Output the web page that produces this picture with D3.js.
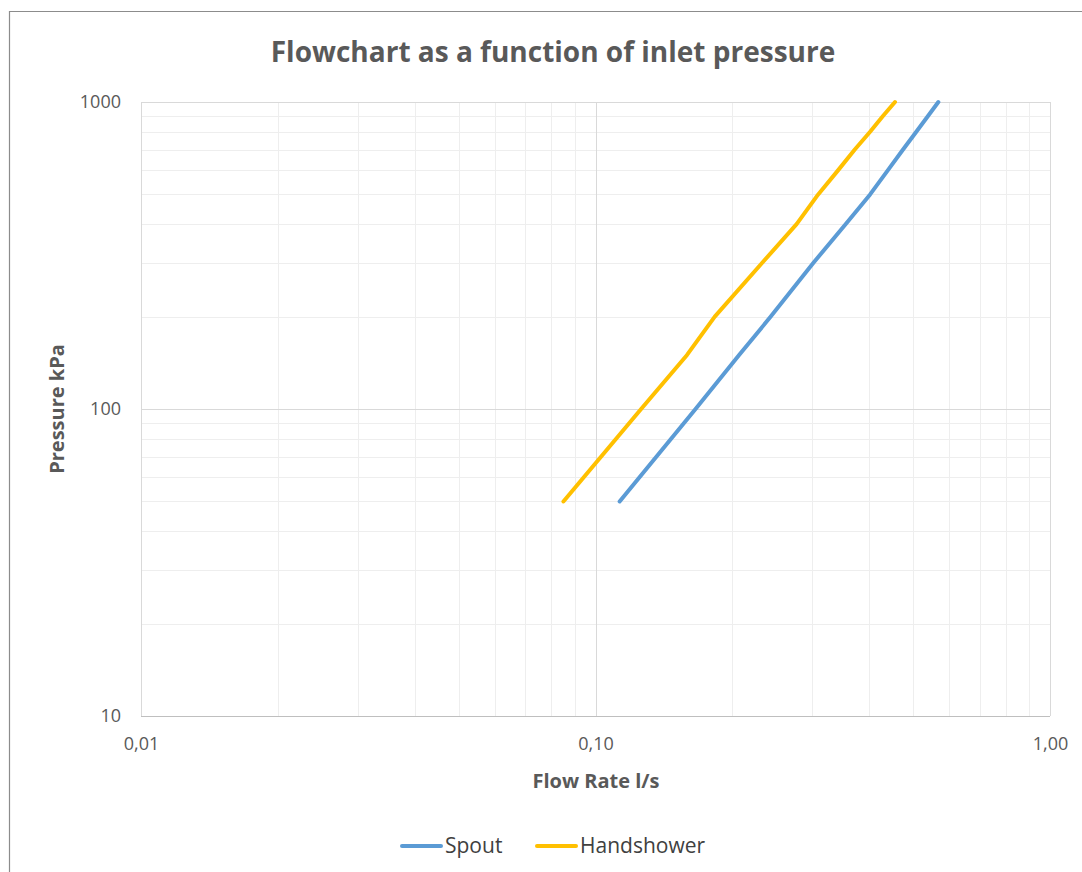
<!DOCTYPE html>
<html>
<head>
<meta charset="utf-8">
<script src="https://cdn.jsdelivr.net/npm/d3@7"></script>
<style>
  html, body { margin: 0; padding: 0; background: #fff; }
  svg { display: block; }
  text { font-family: "Open Sans", "Noto Sans", sans-serif; }
</style>
</head>
<body>
<svg id="chart" width="1082" height="872"></svg>
<script>
// ---- data ----
const pressure   = [50, 100, 150, 200, 300, 400, 500, 600, 700, 800, 900, 1000];
const spout      = [0.113, 0.166, 0.207, 0.243, 0.302, 0.355, 0.402, 0.440, 0.475, 0.508, 0.539, 0.568];
const handshower = [0.085, 0.126, 0.159, 0.183, 0.233, 0.277, 0.309, 0.342, 0.372, 0.402, 0.429, 0.456];
const seriesNames = ["Spout", "Handshower"];
const xTickValues = [0.01, 0.1, 1];
const xTickLabels = ["0,01", "0,10", "1,00"];
const yTickValues = [10, 100, 1000];
const yTickLabels = ["10", "100", "1000"];
const titleText = "Flowchart as a function of inlet pressure";
const xTitle = "Flow Rate l/s";
const yTitle = "Pressure kPa";

// ---- layout ----
const svg = d3.select("#chart");
const W = 1082, H = 872;
const plot = { left: 141, right: 1050, top: 102, bottom: 716 };
const colors = ["#5B9BD5", "#FFC000"];
const textColor = "#595959";

// outer chart border (cropped at right/bottom)
svg.append("path")
  .attr("d", `M${W + 2},11.5 H9.5 V${H + 2}`)
  .attr("fill", "none").attr("stroke", "#8c8c8c").attr("stroke-width", 1.2);

const x = d3.scaleLog().domain([0.01, 1]).range([plot.left, plot.right]);
const y = d3.scaleLog().domain([10, 1000]).range([plot.bottom, plot.top]);

// minor grid
const minorX = [];
[0.01, 0.1].forEach(d => { for (let k = 2; k <= 9; k++) minorX.push(d * k); });
const minorY = [];
[10, 100].forEach(d => { for (let k = 2; k <= 9; k++) minorY.push(d * k); });

const g = svg.append("g");
g.selectAll("line.mx").data(minorX).join("line")
  .attr("x1", d => Math.round(x(d)) + 0.5).attr("x2", d => Math.round(x(d)) + 0.5)
  .attr("y1", plot.top).attr("y2", plot.bottom)
  .attr("stroke", "#eeeeee").attr("stroke-width", 1);
g.selectAll("line.my").data(minorY).join("line")
  .attr("y1", d => Math.round(y(d)) + 0.5).attr("y2", d => Math.round(y(d)) + 0.5)
  .attr("x1", plot.left).attr("x2", plot.right)
  .attr("stroke", "#eeeeee").attr("stroke-width", 1);

// major grid
g.selectAll("line.Mx").data(xTickValues).join("line")
  .attr("x1", d => Math.round(x(d)) + 0.5).attr("x2", d => Math.round(x(d)) + 0.5)
  .attr("y1", plot.top).attr("y2", plot.bottom)
  .attr("stroke", "#d9d9d9").attr("stroke-width", 1);
g.selectAll("line.My").data(yTickValues).join("line")
  .attr("y1", d => Math.round(y(d)) + 0.5).attr("y2", d => Math.round(y(d)) + 0.5)
  .attr("x1", plot.left).attr("x2", plot.right)
  .attr("stroke", "#d9d9d9").attr("stroke-width", 1);

// bottom axis line
svg.append("line")
  .attr("x1", plot.left).attr("x2", plot.right)
  .attr("y1", Math.round(y(10)) + 0.5).attr("y2", Math.round(y(10)) + 0.5)
  .attr("stroke", "#bfbfbf").attr("stroke-width", 1);

// axes labels via d3 axes (tick lines hidden)
const xAxis = d3.axisBottom(x).tickValues(xTickValues)
  .tickFormat((d, i) => xTickLabels[i]).tickSize(0).tickPadding(21);
const xa = svg.append("g").attr("transform", `translate(0,${plot.bottom})`).call(xAxis);
xa.select(".domain").remove();
xa.selectAll("text").attr("fill", textColor).style("font-size", "18px")
  .style("font-family", "'Open Sans', sans-serif");

const yAxis = d3.axisLeft(y).tickValues(yTickValues)
  .tickFormat((d, i) => yTickLabels[i]).tickSize(0).tickPadding(20);
const ya = svg.append("g").attr("transform", `translate(${plot.left},0)`).call(yAxis);
ya.select(".domain").remove();
ya.selectAll("text").attr("fill", textColor).style("font-size", "18px")
  .style("font-family", "'Open Sans', sans-serif");

// series lines
const series = [spout, handshower];
const line = d3.line().x(d => x(d[0])).y(d => y(d[1]));
series.forEach((s, i) => {
  svg.append("path")
    .datum(s.map((v, j) => [v, pressure[j]]))
    .attr("d", line)
    .attr("fill", "none")
    .attr("stroke", colors[i])
    .attr("stroke-width", 4)
    .attr("stroke-linejoin", "round")
    .attr("stroke-linecap", "round");
});

// title
svg.append("text")
  .attr("x", 553).attr("y", 62)
  .attr("text-anchor", "middle")
  .attr("fill", textColor)
  .style("font-size", "28px").style("font-weight", "bold")
  .text(titleText);

// axis titles
svg.append("text")
  .attr("x", 596).attr("y", 788)
  .attr("text-anchor", "middle")
  .attr("fill", textColor)
  .style("font-size", "20px").style("font-weight", "bold")
  .text(xTitle);

svg.append("text")
  .attr("transform", `translate(64,409) rotate(-90)`)
  .attr("text-anchor", "middle")
  .attr("fill", textColor)
  .style("font-size", "20px").style("font-weight", "bold")
  .text(yTitle);

// legend
const legendItems = [
  { name: seriesNames[0], color: colors[0], lx: 400 },
  { name: seriesNames[1], color: colors[1], lx: 535 }
];
const lg = svg.append("g");
legendItems.forEach(it => {
  lg.append("line")
    .attr("x1", it.lx + 2).attr("x2", it.lx + 41)
    .attr("y1", 846).attr("y2", 846)
    .attr("stroke", it.color).attr("stroke-width", 4).attr("stroke-linecap", "round");
  lg.append("text")
    .attr("x", it.lx + 45).attr("y", 853)
    .attr("fill", "#404040")
    .style("font-size", "21px")
    .text(it.name);
});
</script>
</body>
</html>
